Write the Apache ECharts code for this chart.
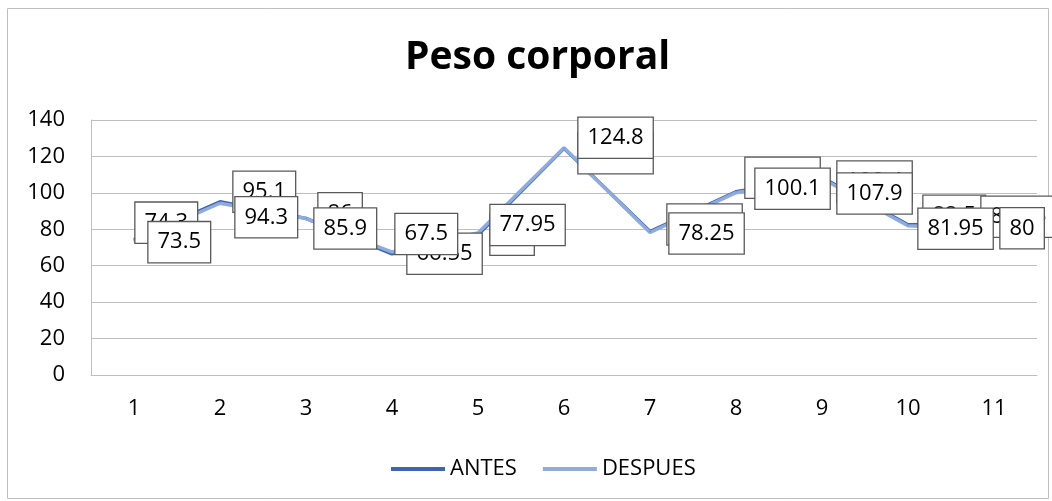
<!DOCTYPE html>
<html lang="es">
<head>
    <meta charset="UTF-8">
    <title>Peso corporal</title>
    <script src="https://cdn.jsdelivr.net/npm/echarts@6/dist/echarts.min.js"></script>
</head>
<body style="margin:0">
<div id="container" style="width:1052px;height:501px"></div>

<script type="text/javascript">
    var categories = ['1', '2', '3', '4', '5', '6', '7', '8', '9', '10', '11'];
    var antes = [74.3, 95.1, 86, 66.55, 77, 124.5, 78.75, 100.6, 108.4, 82.5, 83.05];
    var despues = [73.5, 94.3, 85.9, 67.5, 77.95, 124.8, 78.25, 100.1, 107.9, 81.95, 80];
    var yTicks = [0, 20, 40, 60, 80, 100, 120, 140];

    // label nudges (px) so the boxes sit roughly where Excel put them
    var shiftAntes = [[1, -17], [13, -10], [12, -5], [15, 0], [12, 0], [14, 5], [17, -7], [9, -14], [15, 4], [15, -9], [-13, -7]];
    var shiftDespues = [[14, 1], [15, 14], [8, 10], [3, -18], [12, -8], [14, -10], [19, 1], [19, -4], [15, 15], [10, 3], [6, -1]];

    var font = '"Open Sans", "Noto Sans", sans-serif';

    function withLabels(values, shifts) {
        return values.map(function (v, i) {
            return { value: v, label: { offset: shifts[i] } };
        });
    }

    var labelStyle = {
        show: true,
        position: 'right',
        distance: 0,
        color: '#000',
        fontFamily: font,
        fontSize: 22,
        lineHeight: 22,
        backgroundColor: '#fff',
        borderColor: '#595959',
        borderWidth: 1.3,
        padding: [9, 9, 9, 9]
    };

    var myChart = echarts.init(document.getElementById('container'), null, { renderer: 'canvas' });

    var option = {
        backgroundColor: '#fff',
        animation: false,
        title: {
            text: 'Peso corporal',
            left: 400,
            top: 33,
            textStyle: { fontFamily: font, fontSize: 39, fontWeight: 'bold', color: '#000' }
        },
        legend: {
            left: 386,
            top: 453,
            icon: 'rect',
            itemWidth: 54,
            itemHeight: 4,
            itemGap: 26,
            textStyle: { fontFamily: font, fontSize: 22, color: '#000' },
            data: ['ANTES', 'DESPUES']
        },
        graphic: [{
            type: 'rect',
            shape: { x: 7.5, y: 8.5, width: 1041, height: 490 },
            style: { fill: 'none', stroke: '#bfbfbf', lineWidth: 1 },
            silent: true
        }],
        grid: { left: 91, right: 15, top: 120, bottom: 126 },
        xAxis: {
            type: 'category',
            data: categories,
            boundaryGap: true,
            axisLine: { lineStyle: { color: '#bfbfbf', width: 1 } },
            axisTick: { show: false },
            axisLabel: { margin: 23, fontFamily: font, fontSize: 22, color: '#000' }
        },
        yAxis: {
            type: 'value',
            min: yTicks[0],
            max: yTicks[yTicks.length - 1],
            interval: yTicks[1] - yTicks[0],
            axisLine: { show: true, lineStyle: { color: '#bfbfbf', width: 1 } },
            axisTick: { show: false },
            splitLine: { lineStyle: { color: '#bfbfbf', width: 1 } },
            axisLabel: { margin: 26, fontFamily: font, fontSize: 22, color: '#000' }
        },
        series: [
            {
                name: 'ANTES',
                type: 'line',
                symbol: 'circle',
                symbolSize: 1,
                color: '#3f65b0',
                lineStyle: { width: 3.5, color: '#3f65b0' },
                label: labelStyle,
                data: withLabels(antes, shiftAntes)
            },
            {
                name: 'DESPUES',
                type: 'line',
                symbol: 'circle',
                symbolSize: 1,
                color: '#8faadc',
                lineStyle: { width: 3.5, color: '#8faadc' },
                label: labelStyle,
                data: withLabels(despues, shiftDespues)
            }
        ]
    };

    myChart.setOption(option);
    window.addEventListener('resize', myChart.resize);
</script>
</body>
</html>
